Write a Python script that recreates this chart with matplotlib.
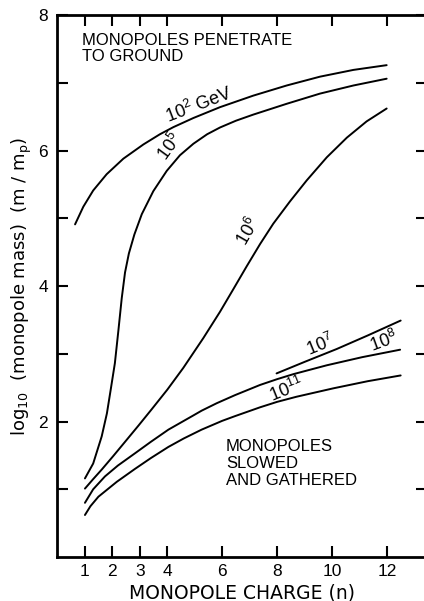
import matplotlib
matplotlib.use("Agg")
import matplotlib.pyplot as plt

plt.rcParams['font.family'] = ['Liberation Sans', 'DejaVu Sans']
plt.rcParams['mathtext.fontset'] = 'custom'
plt.rcParams['mathtext.rm'] = 'Liberation Sans'

# curves (charge n, log10 mass)
n_1e2 = [0.64, 0.94, 1.30, 1.79, 2.40, 3.13, 3.73, 4.22, 4.95, 5.92, 7.13, 8.35,
         9.56, 10.78, 11.99]
m_1e2 = [4.91, 5.17, 5.41, 5.65, 5.88, 6.09, 6.24, 6.345, 6.48, 6.64, 6.81, 6.96,
         7.09, 7.19, 7.26]

n_1e5 = [1.0, 1.30, 1.61, 1.80, 1.95, 2.09, 2.22, 2.34, 2.46, 2.60, 2.80, 3.07,
         3.49, 3.98, 4.46, 4.95, 5.45, 5.92, 6.5, 7.13, 8.35, 9.56, 10.78, 11.99]
m_1e5 = [1.16, 1.38, 1.78, 2.12, 2.50, 2.86, 3.35, 3.82, 4.20, 4.48, 4.76, 5.06,
         5.40, 5.70, 5.93, 6.10, 6.24, 6.34, 6.44, 6.53, 6.69, 6.84, 6.96, 7.06]

n_1e6 = [1.0, 1.30, 1.61, 2.03, 2.46, 2.95, 3.43, 4.0, 4.58, 5.31, 5.92, 6.40,
         6.89, 7.38, 7.86, 8.47, 9.08, 9.81, 10.54, 11.26, 11.99]
m_1e6 = [1.01, 1.15, 1.29, 1.49, 1.70, 1.94, 2.18, 2.47, 2.79, 3.23, 3.62, 3.95,
         4.29, 4.62, 4.92, 5.25, 5.56, 5.90, 6.19, 6.43, 6.62]

n_1e7 = [7.98, 9.0, 10.17, 11.3, 12.50]
m_1e7 = [2.71, 2.88, 3.07, 3.27, 3.49]

n_1e8 = [1.0, 1.3, 1.73, 2.2, 2.82, 3.4, 4.04, 4.95, 5.25, 5.8, 6.47, 7.38, 8.0,
         8.6, 9.81, 11.1, 12.48]
m_1e8 = [0.80, 1.0, 1.19, 1.35, 1.53, 1.70, 1.88, 2.09, 2.16, 2.27, 2.39, 2.54,
         2.625, 2.70, 2.83, 2.95, 3.06]

n_1e11 = [1.0, 1.2, 1.49, 2.16, 2.82, 3.4, 4.04, 4.6, 5.25, 6.0, 6.47, 7.38, 8.0,
          8.7, 10.05, 11.3, 12.50]
m_1e11 = [0.62, 0.75, 0.89, 1.11, 1.30, 1.46, 1.625, 1.75, 1.88, 2.01, 2.08, 2.21,
          2.29, 2.365, 2.49, 2.595, 2.68]

x_ticks = [1, 2, 3, 4, 6, 8, 10, 12]
y_ticks = [1, 2, 3, 4, 5, 6, 7, 8]
y_ticklabels = ['', '2', '', '4', '', '6', '', '8']

fig = plt.figure(figsize=(4.24, 6.01), dpi=100)
ax = fig.add_axes([0.1356, 0.0732, 0.8715, 0.9018])

lw = 1.4
for xs, ys in [(n_1e2, m_1e2), (n_1e5, m_1e5), (n_1e6, m_1e6),
               (n_1e7, m_1e7), (n_1e8, m_1e8), (n_1e11, m_1e11)]:
    ax.plot(xs, ys, color='black', lw=lw, solid_capstyle='round',
            solid_joinstyle='round')

ax.set_xlim(0, 13.46)
ax.set_ylim(0, 8)
ax.set_xticks(x_ticks)
ax.set_yticks(y_ticks)
ax.set_yticklabels(y_ticklabels)
ax.tick_params(direction='in', length=8, width=1.5, top=True, right=True,
               labelsize=12.5, colors='black')
ax.tick_params(axis='y', pad=7)
ax.tick_params(axis='x', pad=5)
for s in ax.spines.values():
    s.set_linewidth(2)

ax.set_xlabel('MONOPOLE CHARGE (n)', fontsize=13.5, labelpad=3,
              family='DejaVu Sans')
ax.set_ylabel(r'$\mathregular{log_{10}}$  (monopole mass)  (m / m$_\mathregular{p}$)',
              fontsize=13, labelpad=3, family='DejaVu Sans')

ax.text(0.89, 7.74, 'MONOPOLES PENETRATE\nTO GROUND', fontsize=12, va='top',
        ha='left', linespacing=1.1)
ax.text(6.14, 1.74, 'MONOPOLES\nSLOWED\nAND GATHERED', fontsize=12, va='top',
        ha='left', linespacing=1.15)

lab = dict(fontsize=13, ha='center', va='center', rotation_mode='anchor')
ax.text(5.15, 6.68, r'$\mathregular{10^2}$ GeV', rotation=21, **lab)
ax.text(4.10, 6.06, r'$\mathregular{10^5}$', rotation=54, **lab)
ax.text(6.93, 4.80, r'$\mathregular{10^6}$', rotation=60, **lab)
ax.text(9.56, 3.13, r'$\mathregular{10^7}$', rotation=22, **lab)
ax.text(11.87, 3.18, r'$\mathregular{10^8}$', rotation=20, **lab)
ax.text(8.35, 2.47, r'$\mathregular{10^{11}}$', rotation=22, **lab)

fig.savefig('out.png', dpi=100)
